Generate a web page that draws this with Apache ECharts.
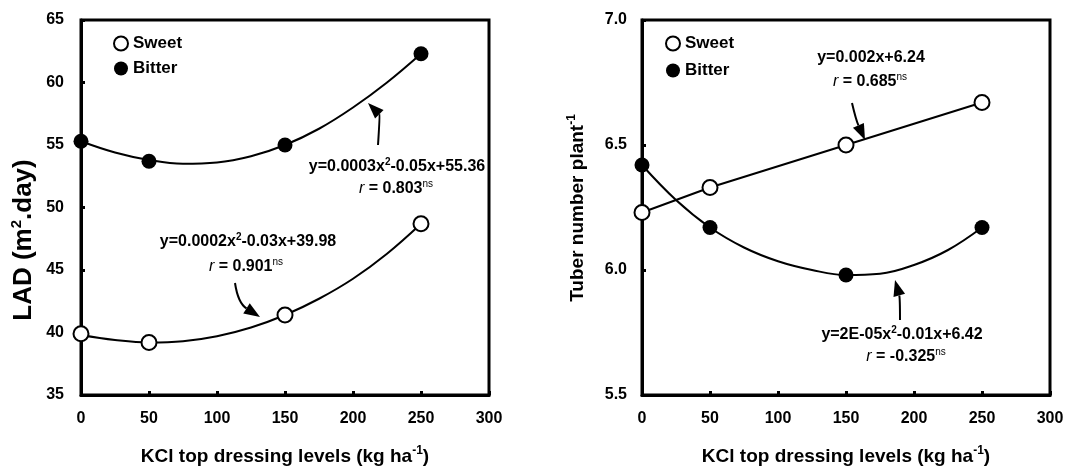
<!DOCTYPE html>
<html lang="en">
<head>
<meta charset="utf-8">
<title>LAD and tuber number vs KCl</title>
<script src="https://cdn.jsdelivr.net/npm/echarts@6/dist/echarts.min.js"></script>
<style>
    html, body { margin: 0; padding: 0; background: #fff; }
    #main { width: 1075px; height: 468px; }
</style>
</head>
<body>
<div id="main"></div>
<script type="text/javascript">
    // measured points
    var kcl = [0, 50, 150, 250];
    var ladSweet = [39.9, 39.2, 41.4, 48.7];
    var ladBitter = [55.3, 53.7, 55.0, 62.3];
    var tuberSweet = [6.23, 6.33, 6.50, 6.67];
    var tuberBitter = [6.42, 6.17, 5.98, 6.17];

    // fitted curves
    var fitX = [0, 25, 50, 75, 100, 125, 150, 175, 200, 225, 250];
    var ladSweetFit = [39.8, 39.4, 39.2, 39.3, 39.7, 40.4, 41.4, 42.7, 44.3, 46.3, 48.7];
    var ladBitterFit = [55.3, 54.4, 53.8, 53.5, 53.6, 54.1, 55.0, 56.3, 58.0, 60.0, 62.3];
    var tuberBitterFit = [6.42, 6.28, 6.17, 6.09, 6.035, 6.0, 5.98, 5.985, 6.02, 6.08, 6.17];

    // axis ticks
    var xTicks = [0, 50, 100, 150, 200, 250, 300];
    var ladTicks = [35, 40, 45, 50, 55, 60, 65];
    var tuberTicks = [5.5, 6.0, 6.5, 7.0];

    var FONT = "'Liberation Sans', Arial, sans-serif";

    function pairs(xs, ys) {
        return xs.map(function (x, i) { return [x, ys[i]]; });
    }

    function xAxis(gridIndex) {
        return {
            type: 'value', gridIndex: gridIndex,
            min: xTicks[0], max: xTicks[xTicks.length - 1], interval: xTicks[1] - xTicks[0],
            axisLine: {show: true, lineStyle: {color: '#000', width: 3}},
            axisTick: {show: true, inside: true, length: 4, lineStyle: {color: '#000', width: 3}},
            splitLine: {show: false},
            axisLabel: {color: '#000', fontSize: 16, fontWeight: 'bold', fontFamily: FONT, margin: 16}
        };
    }

    function yAxis(gridIndex, ticks, margin, fmt) {
        return {
            type: 'value', gridIndex: gridIndex,
            min: ticks[0], max: ticks[ticks.length - 1], interval: ticks[1] - ticks[0],
            axisLine: {show: true, lineStyle: {color: '#000', width: 3}},
            axisTick: {show: true, inside: true, length: 4, lineStyle: {color: '#000', width: 3}},
            splitLine: {show: false},
            axisLabel: {color: '#000', fontSize: 16, fontWeight: 'bold', fontFamily: FONT, margin: margin, formatter: fmt}
        };
    }

    function fitLine(name, idx, data, smooth) {
        return {
            name: name, type: 'line', xAxisIndex: idx, yAxisIndex: idx,
            data: data, smooth: smooth, showSymbol: false, symbol: 'none',
            lineStyle: {color: '#000', width: 2}, z: 2, silent: true
        };
    }

    function dots(name, idx, data, hollow) {
        return {
            name: name, type: 'scatter', xAxisIndex: idx, yAxisIndex: idx,
            data: data, symbol: 'circle', symbolSize: 15, z: 3,
            itemStyle: hollow ? {color: '#fff', borderColor: '#000', borderWidth: 2, opacity: 1}
                              : {color: '#000', opacity: 1}
        };
    }

    function legend(left, top, gap) {
        return {
            data: ['Sweet', 'Bitter'], left: left, top: top, orient: 'vertical',
            icon: 'circle', itemWidth: 14, itemHeight: 14, itemGap: gap, selectedMode: false,
            textStyle: {color: '#000', fontSize: 17, fontWeight: 'bold', fontFamily: FONT, lineHeight: 14}
        };
    }

    var rich = {
        b: {fontSize: 16, fontWeight: 'bold', fontFamily: FONT, fill: '#000', lineHeight: 20},
        i: {fontSize: 16, fontStyle: 'italic', fontFamily: FONT, fill: '#000', lineHeight: 20},
        s: {fontSize: 10, fontWeight: 'bold', fontFamily: FONT, fill: '#000', lineHeight: 12, verticalAlign: 'top'},
        n: {fontSize: 10, fontFamily: FONT, fill: '#000', lineHeight: 12, verticalAlign: 'top'},
        t: {fontSize: 19, fontWeight: 'bold', fontFamily: FONT, fill: '#000', lineHeight: 24},
        ts: {fontSize: 12, fontWeight: 'bold', fontFamily: FONT, fill: '#000', lineHeight: 15, verticalAlign: 'top'},
        T: {fontSize: 26, fontWeight: 'bold', fontFamily: FONT, fill: '#000', lineHeight: 30},
        Ts: {fontSize: 15, fontWeight: 'bold', fontFamily: FONT, fill: '#000', lineHeight: 18, verticalAlign: 'top'}
    };

    function label(text, x, y, rot) {
        return {
            type: 'text', x: x, y: y, rotation: rot || 0, silent: true,
            style: {text: text, rich: rich, align: 'center', verticalAlign: 'middle'}
        };
    }

    // curved annotation arrow: base -> control -> tip
    function arrow(x0, y0, cx, cy, tx, ty) {
        var dx = tx - cx, dy = ty - cy, len = Math.sqrt(dx * dx + dy * dy);
        dx /= len; dy /= len;
        var hl = 16, hw = 6;
        var bx = tx - dx * hl, by = ty - dy * hl;
        return [{
            type: 'bezierCurve', silent: true,
            shape: {x1: x0, y1: y0, cpx1: cx, cpy1: cy, x2: bx, y2: by},
            style: {stroke: '#000', lineWidth: 2, fill: null}
        }, {
            type: 'polygon', silent: true,
            shape: {points: [[tx, ty], [bx - dy * hw, by + dx * hw], [bx + dy * hw, by - dx * hw]]},
            style: {fill: '#000'}
        }];
    }

    var xTitle = '{t|KCl top dressing levels (kg ha}{ts|-1}{t|)}';

    var graphics = [
        label('{T|LAD (m}{Ts|2}{T|.day)}', 24, 240, Math.PI / 2),
        label('{t|Tuber number plant}{ts|-1}', 578, 208, Math.PI / 2),
        label(xTitle, 285, 457),
        label(xTitle, 846, 457),
        label('{b|y=0.0003x}{s|2}{b|-0.05x+55.36}', 397, 167),
        label('{i|r}{b| = 0.803}{n|ns}', 396, 189),
        label('{b|y=0.0002x}{s|2}{b|-0.03x+39.98}', 248, 242),
        label('{i|r}{b| = 0.901}{n|ns}', 246, 267),
        label('{b|y=0.002x+6.24}', 871, 58),
        label('{i|r}{b| = 0.685}{n|ns}', 870, 82),
        label('{b|y=2E-05x}{s|2}{b|-0.01x+6.42}', 902, 335),
        label('{i|r}{b| = -0.325}{n|ns}', 906, 357)
    ].concat(
        arrow(378, 145, 380, 115, 368, 103),
        arrow(235, 283, 238, 303, 260, 317),
        arrow(852, 103, 856, 120, 865, 140),
        arrow(900, 320, 900, 298, 895, 280)
    );

    var myChart = echarts.init(document.getElementById('main'));
    var option = {
        animation: false,
        backgroundColor: '#fff',
        grid: [
            {left: 81, right: 586, top: 20, bottom: 73, show: true, borderColor: '#000', borderWidth: 3},
            {left: 642, right: 25, top: 20, bottom: 73, show: true, borderColor: '#000', borderWidth: 3}
        ],
        legend: [legend(108, 30, 8), legend(660, 30, 10)],
        xAxis: [xAxis(0), xAxis(1)],
        yAxis: [
            yAxis(0, ladTicks, 17),
            yAxis(1, tuberTicks, 15, function (v) { return v.toFixed(1); })
        ],
        series: [
            fitLine('LAD bitter fit', 0, pairs(fitX, ladBitterFit), 0.4),
            fitLine('LAD sweet fit', 0, pairs(fitX, ladSweetFit), 0.4),
            dots('Sweet', 0, pairs(kcl, ladSweet), true),
            dots('Bitter', 0, pairs(kcl, ladBitter), false),
            fitLine('Tuber sweet fit', 1, pairs(kcl, tuberSweet), false),
            fitLine('Tuber bitter fit', 1, pairs(fitX, tuberBitterFit), 0.4),
            dots('Sweet', 1, pairs(kcl, tuberSweet), true),
            dots('Bitter', 1, pairs(kcl, tuberBitter), false)
        ],
        graphic: graphics
    };
    myChart.setOption(option);
</script>
</body>
</html>
